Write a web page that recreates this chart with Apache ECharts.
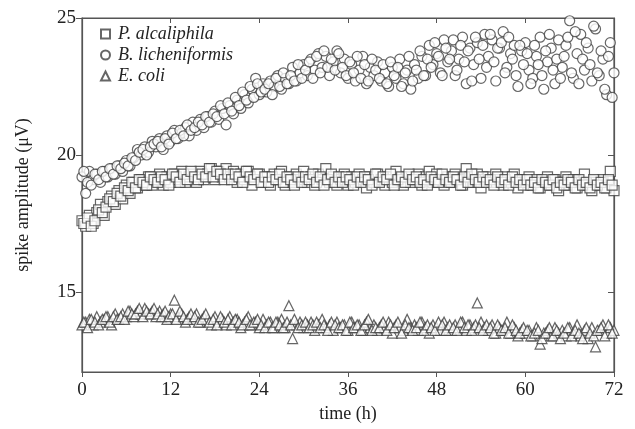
<!DOCTYPE html>
<html><head><meta charset="utf-8">
<script src="https://cdn.jsdelivr.net/npm/echarts@6/dist/echarts.min.js"></script>
<style>html,body{margin:0;padding:0;background:#fff}#c{width:635px;height:429px}</style>
</head><body><div id="c"></div>
<script>
const times = [0,0.5,1,1.5,2,2.5,3,3.5,4,4.5,5,5.5,6,6.5,7,7.5,8,8.5,9,9.5,10,10.5,11,11.5,12,12.5,13,13.5,14,14.5,15,15.5,16,16.5,17,17.5,18,18.5,19,19.5,20,20.5,21,21.5,22,22.5,23,23.5,24,24.5,25,25.5,26,26.5,27,27.5,28,28.5,29,29.5,30,30.5,31,31.5,32,32.5,33,33.5,34,34.5,35,35.5,36,36.5,37,37.5,38,38.5,39,39.5,40,40.5,41,41.5,42,42.5,43,43.5,44,44.5,45,45.5,46,46.5,47,47.5,48,48.5,49,49.5,50,50.5,51,51.5,52,52.5,53,53.5,54,54.5,55,55.5,56,56.5,57,57.5,58,58.5,59,59.5,60,60.5,61,61.5,62,62.5,63,63.5,64,64.5,65,65.5,66,66.5,67,67.5,68,68.5,69,69.5,70,70.5,71,71.5,72];
const timesQ = [0.25,0.75,1.25,1.75,2.25,2.75,3.25,3.75,4.25,4.75,5.25,5.75,6.25,6.75,7.25,7.75,8.25,8.75,9.25,9.75,10.25,10.75,11.25,11.75,12.25,12.75,13.25,13.75,14.25,14.75,15.25,15.75,16.25,16.75,17.25,17.75,18.25,18.75,19.25,19.75,20.25,20.75,21.25,21.75,22.25,22.75,23.25,23.75,24.25,24.75,25.25,25.75,26.25,26.75,27.25,27.75,28.25,28.75,29.25,29.75,30.25,30.75,31.25,31.75,32.25,32.75,33.25,33.75,34.25,34.75,35.25,35.75,36.25,36.75,37.25,37.75,38.25,38.75,39.25,39.75,40.25,40.75,41.25,41.75,42.25,42.75,43.25,43.75,44.25,44.75,45.25,45.75,46.25,46.75,47.25,47.75,48.25,48.75,49.25,49.75,50.25,50.75,51.25,51.75,52.25,52.75,53.25,53.75,54.25,54.75,55.25,55.75,56.25,56.75,57.25,57.75,58.25,58.75,59.25,59.75,60.25,60.75,61.25,61.75,62.25,62.75,63.25,63.75,64.25,64.75,65.25,65.75,66.25,66.75,67.25,67.75,68.25,68.75,69.25,69.75,70.25,70.75,71.25,71.75];

const pAlcaliphila = [
17.6,17.4,17.8,17.5,17.9,18.2,17.8,18.3,18.5,18.2,
18.7,18.4,18.9,18.6,19.0,18.8,19.1,18.9,19.2,18.9,
19.1,19.3,18.9,19.2,19.0,19.3,19.1,19.4,19.0,19.2,
19.3,19.0,19.4,19.1,19.3,19.5,19.1,19.4,19.2,19.5,
19.2,19.4,19.0,19.3,19.1,19.4,18.9,19.2,19.3,19.0,
19.2,18.9,19.3,19.1,19.4,18.9,19.2,19.0,19.3,19.1,
19.4,19.0,19.2,18.9,19.3,19.1,19.5,19.0,19.2,18.9,
19.1,19.3,18.9,19.2,19.0,19.3,19.1,18.8,19.2,19.0,
19.3,19.1,18.9,19.2,19.0,19.4,19.1,18.9,19.2,19.0,
19.1,19.3,18.9,19.2,19.4,19.0,19.3,19.1,18.9,19.2,
19.0,19.3,19.1,18.9,19.5,19.2,19.0,19.3,18.8,19.1,
19.2,19.0,19.3,19.1,18.9,19.2,19.0,19.3,18.8,19.1,
19.0,19.2,18.9,19.1,18.8,19.0,19.2,18.9,19.1,18.7,
19.0,19.2,18.9,19.1,18.8,19.0,19.3,18.9,18.7,19.0,
18.9,19.1,18.8,19.4,18.7];
const pAlcaliphilaQ = [
17.5,17.7,17.4,17.6,18.0,17.9,18.1,18.4,18.3,18.6,
18.5,18.8,18.7,19.0,18.8,19.1,19.0,18.9,19.2,19.1,
19.0,19.2,19.1,18.9,19.3,19.2,19.0,19.3,19.1,19.4,
19.2,19.1,19.3,19.2,19.5,19.2,19.4,19.3,19.1,19.3,
19.1,19.3,19.2,19.0,19.4,19.2,19.1,19.3,19.0,19.2,
19.0,19.2,19.1,19.3,19.0,19.2,19.1,18.9,19.2,19.0,
19.2,19.1,19.3,19.0,19.2,18.9,19.1,19.3,19.0,19.2,
19.0,19.2,19.1,18.9,19.2,19.0,19.2,19.1,18.9,19.3,
19.0,19.2,19.1,19.3,18.9,19.1,19.2,19.0,19.3,19.1,
19.2,19.0,19.1,18.9,19.2,19.1,19.0,19.3,19.1,19.0,
19.2,19.1,18.9,19.2,19.0,19.3,19.1,19.0,19.2,19.0,
19.1,18.9,19.2,19.0,19.1,18.9,19.2,19.0,19.1,18.9,
19.1,18.9,19.0,18.8,19.1,19.0,18.9,19.1,18.8,19.0,
18.9,19.1,19.0,18.8,19.1,18.9,19.0,18.8,19.1,18.9,
19.0,18.8,19.1,18.9];

const bLicheniformis = [
19.2,18.6,19.4,19.1,19.3,19.0,19.4,19.2,19.5,19.3,
19.6,19.4,19.8,19.6,19.9,20.2,20.0,20.3,20.1,20.5,
20.3,20.6,20.2,20.7,20.5,20.9,20.6,20.8,21.0,20.7,
21.2,20.9,21.3,21.0,21.4,21.2,21.6,21.3,21.7,21.1,
21.8,21.5,22.0,21.7,22.2,21.9,22.4,22.8,22.2,22.6,
22.3,22.7,22.5,22.9,22.4,22.8,22.6,23.2,22.7,23.0,
23.3,22.9,23.5,23.1,23.7,23.2,23.6,22.9,23.4,23.8,
23.0,23.5,22.8,23.3,22.7,23.1,23.6,22.6,23.2,22.9,
23.4,22.7,23.0,22.5,23.2,22.8,23.5,22.6,23.1,22.4,
23.3,22.8,23.6,22.9,24.0,23.3,23.7,23.0,24.2,23.4,
23.8,22.9,23.5,24.3,22.6,23.9,23.3,24.1,22.8,24.4,
23.6,24.2,22.7,23.9,24.5,23.2,23.7,24.0,22.5,23.8,
24.1,23.1,22.8,23.6,24.3,22.4,23.4,23.9,22.6,24.2,
23.2,24.0,24.9,22.8,23.7,24.4,23.1,23.9,22.7,24.6,
22.9,23.5,22.2,24.1,23.0];
const bLicheniformisQ = [
19.4,19.0,18.9,19.3,19.1,19.4,19.2,19.5,19.3,19.6,
19.5,19.7,19.6,19.9,19.8,20.1,20.2,20.0,20.3,20.4,
20.5,20.3,20.6,20.4,20.8,20.6,20.9,20.7,21.1,20.9,
21.0,21.2,21.1,21.4,21.2,21.5,21.4,21.8,21.5,21.9,
21.6,22.1,21.8,22.3,22.0,22.5,22.1,22.6,22.3,22.4,
22.6,22.2,22.8,22.5,23.0,22.6,22.9,22.7,23.3,22.8,
23.1,23.4,22.8,23.6,23.0,23.8,23.2,23.5,23.1,23.7,
23.2,22.9,23.4,23.0,23.6,22.8,23.3,22.7,23.5,23.1,
22.8,23.3,22.6,23.4,22.9,23.2,22.5,23.0,23.6,22.7,
23.1,23.8,22.9,23.5,23.2,24.1,23.6,22.9,23.9,23.5,
24.2,23.1,24.0,23.4,23.8,22.7,24.3,23.5,24.0,23.2,
24.4,23.4,23.9,24.1,23.0,24.3,23.5,22.9,24.0,23.3,
23.7,22.6,24.0,23.3,22.9,23.8,24.4,23.1,23.5,22.8,
23.6,24.3,23.0,24.5,22.6,23.5,24.1,23.3,24.7,23.0,
23.8,22.4,23.6,22.1];

const eColi = [
13.8,13.9,14.0,13.8,14.1,13.9,14.0,14.1,13.8,14.2,
14.0,14.2,14.1,14.3,14.1,14.3,14.2,14.4,14.2,14.3,
14.1,14.3,14.2,14.0,14.2,14.7,14.1,14.2,13.9,14.1,
14.0,14.2,13.9,14.1,14.0,13.8,14.1,13.9,14.0,13.8,
14.1,13.9,14.0,13.7,13.9,14.1,13.8,13.9,13.7,14.0,
13.8,13.9,13.7,13.9,14.0,13.7,14.5,13.3,13.8,13.9,
13.7,13.8,13.9,13.6,13.8,14.0,13.7,13.8,13.6,13.9,
13.7,13.8,13.6,13.9,13.7,13.8,13.6,13.9,13.7,13.8,
13.6,13.8,13.7,13.9,13.5,13.8,13.7,13.6,14.0,13.7,
13.8,13.6,13.9,13.7,13.5,13.8,13.7,13.6,13.9,13.7,
13.6,13.8,13.7,13.9,13.6,13.8,13.7,14.6,13.9,13.7,
13.6,13.8,13.5,13.7,13.6,13.9,13.5,13.7,13.4,13.6,
13.5,13.6,13.4,13.7,13.1,13.5,13.6,13.4,13.7,13.5,
13.6,13.4,13.7,13.5,13.8,13.4,13.6,13.3,13.7,13.0,
13.6,13.8,13.5,13.7,13.6];
const eColiQ = [
13.9,13.7,14.0,13.9,13.8,14.0,14.1,13.9,14.1,14.0,
14.1,14.0,14.3,14.2,14.2,14.4,14.1,14.3,14.2,14.4,
14.2,14.1,14.3,14.1,14.2,14.0,14.3,14.1,14.0,14.2,
14.1,13.9,14.0,14.2,13.9,14.0,13.8,14.1,13.9,14.0,
13.8,14.0,13.9,13.8,14.0,13.8,13.9,14.0,13.8,13.7,
13.9,13.7,13.9,13.8,13.7,13.9,13.8,14.0,13.7,13.8,
13.9,13.7,13.8,13.9,13.7,13.8,13.6,13.9,13.8,13.7,
13.8,13.6,13.9,13.7,13.8,13.6,13.8,14.0,13.6,13.7,
13.7,13.9,13.6,13.8,13.7,13.9,13.5,13.8,13.7,13.6,
13.7,13.9,13.6,13.8,13.7,13.6,13.9,13.8,13.6,13.8,
13.7,13.6,13.9,13.7,13.8,13.6,13.8,13.7,13.6,13.8,
13.7,13.5,13.8,13.6,13.7,13.5,13.8,13.6,13.5,13.7,
13.6,13.4,13.5,13.6,13.3,13.5,13.7,13.4,13.6,13.3,
13.5,13.7,13.4,13.6,13.5,13.3,13.7,13.5,13.4,13.6,
13.7,13.4,13.8,13.5];

const seriesNames = ['P. alcaliphila','B. licheniformis','E. coli'];
const yTicks = [15,20,25];
const xTicks = [0,12,24,36,48,60,72];

const FONT = 'Liberation Serif';
const AX = '#555';
const pair = (a, b) => a.map((v,i)=>[times[i], v]).concat(b.map((v,i)=>[timesQ[i], v]));
const mk = (name, a, b, symbol, size) => ({
  name, type:'scatter', data: pair(a, b), symbol, symbolSize: size,
  itemStyle:{color:'#fff', borderColor:'#404040', borderWidth:1.2},
  emphasis:{disabled:true}, animation:false
});
const chart = echarts.init(document.getElementById('c'));
chart.setOption({
  animation:false,
  grid:{left:82, right:21, top:18, bottom:57, show:true, borderColor:AX, borderWidth:1.2, backgroundColor:'transparent'},
  legend:{
    orient:'vertical', left:95, top:20, itemGap:3, itemWidth:9, itemHeight:9,
    textStyle:{fontFamily:FONT, fontStyle:'italic', fontSize:18, color:'#222', padding:[0,0,0,3]},
    data: seriesNames
  },
  xAxis:[{
    type:'value', min:0, max:72, interval:12,
    name:'time (h)', nameLocation:'middle', nameGap:28,
    nameTextStyle:{fontFamily:FONT, fontSize:18, color:'#222'},
    axisLine:{onZero:false, lineStyle:{color:AX, width:1.2}},
    axisTick:{show:true, inside:false, length:5, lineStyle:{color:AX}},
    axisLabel:{fontFamily:FONT, fontSize:19, color:'#222', margin:9},
    splitLine:{show:false}
  },{
    type:'value', min:0, max:72, interval:12, position:'top',
    axisLine:{show:true, onZero:false, lineStyle:{color:AX, width:1.2}},
    axisTick:{show:true, inside:true, length:5, lineStyle:{color:AX}},
    axisLabel:{show:false}, splitLine:{show:false}
  }],
  yAxis:[{
    type:'value', min:12.08, max:25,
    name:'spike amplitude (μV)', nameLocation:'middle', nameGap:50,
    nameTextStyle:{fontFamily:FONT, fontSize:18, color:'#222'},
    axisLine:{show:true, onZero:false, lineStyle:{color:AX, width:1.2}},
    axisTick:{show:true, inside:false, length:6, customValues:yTicks, lineStyle:{color:AX}},
    axisLabel:{fontFamily:FONT, fontSize:19, color:'#222', margin:6, customValues:yTicks},
    splitLine:{show:false}
  },{
    type:'value', min:12.08, max:25, position:'right',
    axisLine:{show:true, onZero:false, lineStyle:{color:AX, width:1.2}},
    axisTick:{show:true, inside:true, length:6, customValues:yTicks, lineStyle:{color:AX}},
    axisLabel:{show:false, customValues:yTicks}, splitLine:{show:false}
  }],
  series:[
    mk(seriesNames[0], pAlcaliphila, pAlcaliphilaQ, 'rect', 10),
    mk(seriesNames[1], bLicheniformis, bLicheniformisQ, 'circle', 10),
    mk(seriesNames[2], eColi, eColiQ, 'triangle', 10)
  ]
});
</script></body></html>
